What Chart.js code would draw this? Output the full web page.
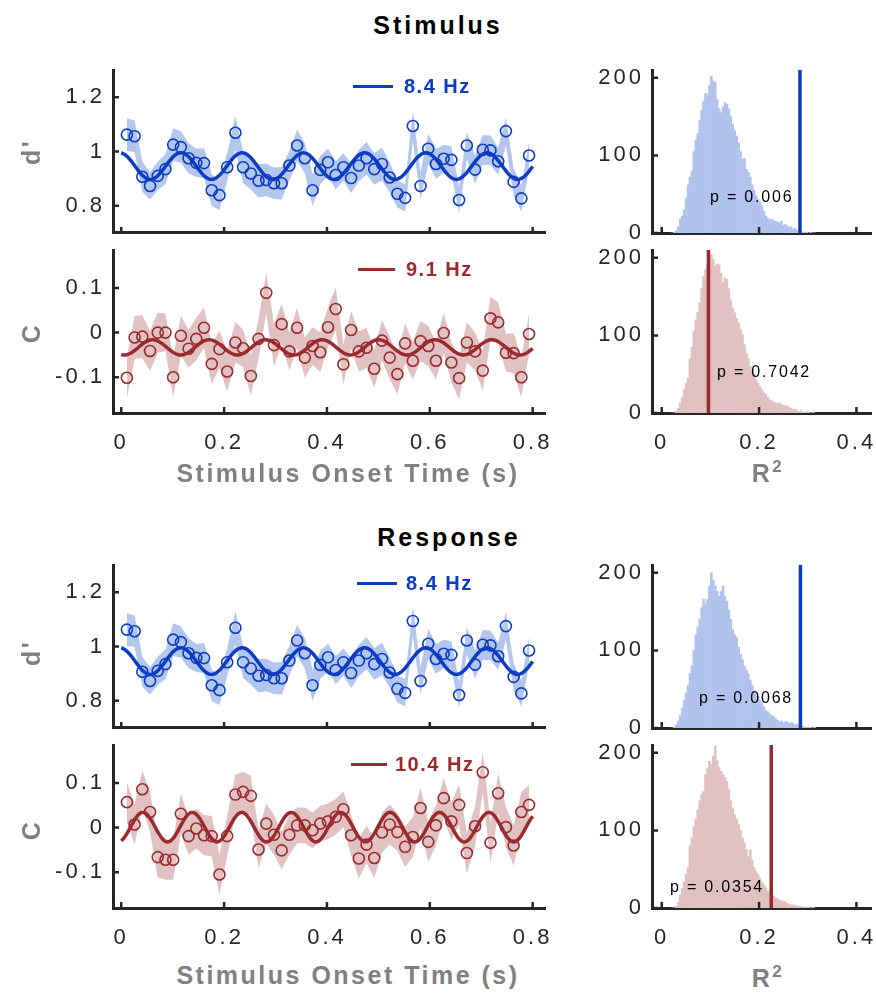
<!DOCTYPE html>
<html>
<head>
<meta charset="utf-8">
<script src="https://cdn.jsdelivr.net/npm/chart.js@4.4.1/dist/chart.umd.min.js"></script>
<style>
  body { margin: 0; background: #fff; width: 876px; height: 1001px; position: relative; overflow: hidden;
         font-family: "Liberation Sans", Arial, sans-serif; }
  canvas { position: absolute; }
  .txt { position: absolute; white-space: nowrap; transform: translate(-50%, -50%); line-height: 1; }
  .ttl { font-weight: bold; font-size: 25px; color: #000; letter-spacing: 3px; }
  .lab { font-weight: bold; font-size: 25px; color: #808080; letter-spacing: 2.5px; }
  .leg { position: absolute; white-space: nowrap; font-weight: bold; font-size: 20px; transform: translateY(-50%); line-height: 1; letter-spacing: 1.5px; }
  .legline { position: absolute; height: 3px; }
  .pv { position: absolute; white-space: nowrap; font-size: 16px; color: #000; transform: translateY(-50%); line-height: 1; letter-spacing: 1.8px; }
</style>
</head>
<body>
<canvas id="c1" width="560" height="180" style="left:0;top:60px"></canvas>
<canvas id="c2" width="560" height="225" style="left:0;top:240px"></canvas>
<canvas id="c3" width="560" height="180" style="left:0;top:555px"></canvas>
<canvas id="c4" width="560" height="225" style="left:0;top:735px"></canvas>
<canvas id="h1" width="296" height="180" style="left:580px;top:60px"></canvas>
<canvas id="h2" width="296" height="225" style="left:580px;top:240px"></canvas>
<canvas id="h3" width="296" height="180" style="left:580px;top:555px"></canvas>
<canvas id="h4" width="296" height="225" style="left:580px;top:735px"></canvas>

<div class="txt ttl" style="left:438px;top:25px">Stimulus</div>
<div class="txt ttl" style="left:449px;top:537px">Response</div>
<div class="txt lab" style="left:31px;top:152px;transform:translate(-50%,-50%) rotate(-90deg)">d'</div>
<div class="txt lab" style="left:31px;top:333px;transform:translate(-50%,-50%) rotate(-90deg)">C</div>
<div class="txt lab" style="left:31px;top:653px;transform:translate(-50%,-50%) rotate(-90deg)">d'</div>
<div class="txt lab" style="left:31px;top:830px;transform:translate(-50%,-50%) rotate(-90deg)">C</div>
<div class="txt lab" style="left:348px;top:473px">Stimulus Onset Time (s)</div>
<div class="txt lab" style="left:348px;top:975px">Stimulus Onset Time (s)</div>
<div class="txt lab" style="left:768px;top:472px">R<sup style="font-size:17px">2</sup></div>
<div class="txt lab" style="left:768px;top:977px">R<sup style="font-size:17px">2</sup></div>

<div id="legends"></div>

<script>
// stimulus onset times of the 53 samples (s)
const onsetTimes = [0.011, 0.026, 0.041, 0.056, 0.071, 0.086, 0.101, 0.116, 0.131, 0.146,
  0.161, 0.176, 0.191, 0.206, 0.222, 0.237, 0.252, 0.267, 0.282, 0.297,
  0.312, 0.327, 0.342, 0.357, 0.372, 0.387, 0.402, 0.417, 0.432, 0.447,
  0.462, 0.477, 0.492, 0.507, 0.522, 0.537, 0.552, 0.567, 0.582, 0.597,
  0.612, 0.627, 0.642, 0.657, 0.672, 0.688, 0.703, 0.718, 0.733, 0.748,
  0.763, 0.778, 0.793];

// d' (stimulus locked)
const stimDprime = [1.062, 1.056, 0.907, 0.873, 0.910, 0.935, 1.025, 1.016, 0.975, 0.958,
  0.957, 0.857, 0.839, 0.942, 1.069, 0.942, 0.919, 0.892, 0.895, 0.883,
  0.883, 0.948, 1.022, 0.975, 0.857, 0.932, 0.960, 0.913, 0.942, 0.902,
  0.948, 0.975, 0.935, 0.954, 0.904, 0.844, 0.829, 1.094, 0.873, 1.010,
  0.954, 0.973, 0.969, 0.821, 1.022, 0.933, 1.006, 1.004, 0.964, 1.075,
  0.888, 0.827, 0.985];
const stimDprimeErr = [0.060, 0.058, 0.055, 0.050, 0.052, 0.055, 0.060, 0.058, 0.055, 0.052,
  0.055, 0.058, 0.055, 0.050, 0.062, 0.058, 0.060, 0.062, 0.060, 0.058,
  0.060, 0.055, 0.058, 0.055, 0.058, 0.052, 0.050, 0.052, 0.050, 0.055,
  0.058, 0.060, 0.058, 0.060, 0.055, 0.050, 0.050, 0.055, 0.050, 0.055,
  0.055, 0.052, 0.050, 0.048, 0.050, 0.052, 0.055, 0.055, 0.050, 0.052,
  0.050, 0.048, 0.050];

// criterion C (stimulus locked)
const stimCrit = [-0.101, -0.011, -0.009, -0.041, 0.000, 0.000, -0.100, -0.007, -0.036, -0.014,
  0.011, -0.070, -0.037, -0.087, -0.022, -0.035, -0.097, -0.014, 0.089, -0.028,
  0.019, -0.042, 0.011, -0.056, -0.030, -0.044, 0.012, 0.053, -0.071, 0.006,
  -0.042, -0.034, -0.081, -0.018, -0.056, -0.093, -0.024, -0.063, -0.019, -0.030,
  -0.063, -0.001, -0.067, -0.102, -0.022, -0.042, -0.085, 0.032, 0.023, -0.045,
  -0.046, -0.100, -0.003];
const stimCritErr = [0.045, 0.048, 0.048, 0.045, 0.045, 0.042, 0.045, 0.045, 0.042, 0.048,
  0.045, 0.045, 0.042, 0.045, 0.045, 0.042, 0.045, 0.045, 0.045, 0.048,
  0.045, 0.042, 0.045, 0.045, 0.042, 0.045, 0.045, 0.048, 0.045, 0.042,
  0.045, 0.045, 0.042, 0.045, 0.048, 0.045, 0.045, 0.042, 0.045, 0.045,
  0.042, 0.045, 0.045, 0.048, 0.045, 0.042, 0.045, 0.048, 0.045, 0.042,
  0.045, 0.045, 0.045];

// d' (response locked) - same values as the stimulus-locked panel
const respDprime = stimDprime;
const respDprimeErr = stimDprimeErr;

// criterion C (response locked)
const respCrit = [0.057, 0.007, 0.086, 0.035, -0.066, -0.072, -0.072, 0.031, -0.019, -0.002,
  -0.017, -0.019, -0.105, -0.019, 0.074, 0.080, 0.071, -0.049, 0.009, -0.016,
  -0.051, -0.016, 0.005, 0.005, -0.006, 0.009, 0.014, 0.024, 0.041, -0.017,
  -0.069, -0.038, -0.068, -0.011, 0.007, -0.010, -0.043, -0.021, 0.044, -0.032,
  0.005, 0.066, 0.014, 0.051, -0.057, 0.003, 0.124, -0.034, 0.077, 0.001,
  -0.040, 0.035, 0.051];
const respCritErr = [0.045, 0.045, 0.042, 0.045, 0.045, 0.045, 0.045, 0.045, 0.042, 0.045,
  0.045, 0.045, 0.045, 0.045, 0.045, 0.045, 0.045, 0.042, 0.045, 0.045,
  0.042, 0.045, 0.040, 0.040, 0.040, 0.040, 0.040, 0.040, 0.040, 0.045,
  0.045, 0.042, 0.045, 0.045, 0.045, 0.042, 0.045, 0.045, 0.045, 0.045,
  0.045, 0.045, 0.042, 0.045, 0.045, 0.045, 0.045, 0.045, 0.045, 0.045,
  0.045, 0.045, 0.045];

// sinusoid fits (frequency, mean, amplitude, time of a peak)
const fitLabels = ['8.4 Hz', '9.1 Hz', '8.4 Hz', '10.4 Hz'];
const fitFreqs = [8.4, 9.1, 8.4, 10.4];
const fitMeans = [0.946, -0.033, 0.946, 0.001];
const fitAmps = [0.049, 0.017, 0.049, 0.033];
const fitPeaks = [-0.003, 0.061, -0.003, 0.042];

// permutation null distributions of R^2 (bin centres, counts)
const r2Bins = [0.022, 0.026, 0.030, 0.034, 0.038, 0.042, 0.046, 0.050, 0.054, 0.058,
  0.062, 0.066, 0.070, 0.074, 0.078, 0.082, 0.086, 0.090, 0.094, 0.098,
  0.102, 0.106, 0.110, 0.114, 0.118, 0.122, 0.126, 0.130, 0.134, 0.138,
  0.142, 0.146, 0.150, 0.154, 0.158, 0.162, 0.166, 0.170, 0.174, 0.178,
  0.182, 0.186, 0.190, 0.194, 0.198, 0.202, 0.206, 0.210, 0.214, 0.218,
  0.222, 0.226, 0.230, 0.234, 0.238, 0.242, 0.246, 0.250, 0.254, 0.258,
  0.262, 0.266, 0.270, 0.274, 0.278, 0.282, 0.286, 0.290, 0.294, 0.298,
  0.302, 0.306, 0.310, 0.314];
const nullStimD = [0, 1, 3, 8, 18, 22, 30, 45, 62, 72,
  80, 105, 120, 128, 145, 158, 170, 180, 178, 190,
  202, 196, 194, 172, 160, 155, 162, 168, 166, 160,
  150, 140, 132, 125, 116, 105, 95, 96, 82, 78,
  72, 62, 55, 48, 43, 40, 35, 28, 22, 19,
  17, 18, 16, 15, 14, 13, 15, 10, 11, 9,
  7, 8, 5, 6, 4, 3, 2, 1, 1, 1,
  0, 1, 0, 0];
const nullStimC = [0, 0, 2, 6, 13, 20, 30, 38, 45, 70,
  85, 105, 120, 130, 142, 160, 176, 185, 191, 196,
  204, 198, 189, 192, 191, 180, 168, 174, 172, 160,
  146, 135, 129, 122, 116, 108, 101, 88, 77, 70,
  60, 55, 50, 43, 38, 34, 30, 26, 24, 20,
  17, 16, 14, 13, 12, 13, 11, 10, 9, 9,
  7, 6, 4, 5, 3, 2, 3, 1, 1, 2,
  1, 0, 1, 0];
const nullRespD = [0, 1, 4, 9, 16, 26, 36, 45, 55, 70,
  80, 100, 120, 130, 140, 155, 166, 160, 166, 183,
  200, 190, 183, 176, 170, 176, 183, 170, 163, 152,
  140, 127, 120, 117, 104, 95, 88, 80, 75, 70,
  62, 55, 48, 44, 40, 36, 32, 27, 23, 21,
  18, 16, 15, 12, 10, 8, 9, 7, 8, 8,
  6, 7, 6, 4, 5, 3, 2, 2, 1, 1,
  1, 1, 0, 1];
const nullRespC = [0, 0, 2, 7, 17, 25, 34, 44, 52, 80,
  90, 105, 114, 126, 138, 146, 150, 172, 180, 189,
  185, 196, 209, 190, 181, 176, 172, 168, 163, 153,
  138, 128, 120, 114, 108, 100, 90, 84, 75, 66,
  75, 62, 52, 47, 43, 38, 33, 30, 26, 22,
  19, 17, 15, 13, 12, 10, 9, 9, 8, 6,
  5, 4, 4, 3, 3, 2, 2, 1, 1, 1,
  1, 0, 1, 0];
const observedR2 = [0.284, 0.096, 0.285, 0.225];
const pValues = ['p = 0.006', 'p = 0.7042', 'p = 0.0068', 'p = 0.0354'];

// tick labels
const timeTicks = [0, 0.2, 0.4, 0.6, 0.8];
const dprimeTicks = [0.8, 1, 1.2];
const critTicks = [-0.1, 0, 0.1];
const r2Ticks = [0, 0.2, 0.4];
const countTicks = [0, 100, 200];

const BLUE = '#0b3cc1', BLUE_LIGHT = '#b3c6ee', BLUE_HIST = '#b1c3ec';
const RED = '#9a2a2e', RED_LIGHT = '#e0c2c3', RED_HIST = '#dfc1c2';
const AXIS = '#262626';
const tickFont = { family: '"Liberation Sans", Arial, sans-serif', size: 22 };

// MATLAB-style ticks that point into the axes, plus the wide tick lettering
const inwardTicks = {
  id: 'inwardTicks',
  beforeUpdate(chart) { chart.ctx.letterSpacing = '3px'; },
  beforeDraw(chart) { chart.ctx.letterSpacing = '3px'; },
  afterDraw(chart) {
    const { ctx, chartArea: a, scales: { x, y } } = chart;
    ctx.save();
    ctx.strokeStyle = AXIS;
    ctx.lineWidth = 2.5;
    ctx.beginPath();
    x.ticks.forEach(t => {
      const p = x.getPixelForValue(t.value);
      ctx.moveTo(p, a.bottom); ctx.lineTo(p, a.bottom - 6);
    });
    y.ticks.forEach(t => {
      const p = y.getPixelForValue(t.value);
      ctx.moveTo(a.left, p); ctx.lineTo(a.left + 6, p);
    });
    ctx.stroke();
    ctx.restore();
  }
};

function axis(min, max, ticks, size, showLabels, isX) {
  return {
    type: 'linear', min: min, max: max, offset: false,
    afterBuildTicks: s => { s.ticks = ticks.map(v => ({ value: v })); },
    afterFit: s => {
      if (isX) { s.height = size; s.paddingLeft = 0; s.paddingRight = 0; }
      else { s.width = size; s.paddingTop = 0; s.paddingBottom = 0; }
    },
    grid: { display: false, drawTicks: false },
    border: { display: true, width: 3, color: AXIS },
    ticks: { display: showLabels, padding: isX ? 17 : 8, color: AXIS, font: tickFont,
             callback: v => String(v), maxRotation: 0, autoSkip: false }
  };
}

function timePanel(id, k, vals, errs, colour, band, yMin, yMax, yTicks, showX, xAxisH) {
  const fitGrid = [];
  for (let t = 0; t <= 0.8001; t += 0.002) fitGrid.push(t);
  const fit = fitGrid.map(t => ({ x: t, y: fitMeans[k] + fitAmps[k] * Math.cos(2 * Math.PI * fitFreqs[k] * (t - fitPeaks[k])) }));
  const pts = vals.map((v, i) => ({ x: onsetTimes[i], y: v }));
  const upper = vals.map((v, i) => ({ x: onsetTimes[i], y: v + errs[i] }));
  const lower = vals.map((v, i) => ({ x: onsetTimes[i], y: v - errs[i] }));
  return new Chart(document.getElementById(id), {
    type: 'line',
    data: {
      datasets: [
        { data: pts, showLine: false, pointRadius: 5.5, pointBorderWidth: 1.6,
          pointBorderColor: colour, pointBackgroundColor: 'rgba(0,0,0,0)' },
        { data: fit, borderColor: colour, borderWidth: 3.5, pointRadius: 0, tension: 0 },
        { data: upper, borderWidth: 0, borderColor: 'rgba(0,0,0,0)', pointRadius: 0, fill: false },
        { data: lower, borderWidth: 0, borderColor: 'rgba(0,0,0,0)', pointRadius: 0, fill: '-1', backgroundColor: band }
      ]
    },
    options: {
      animation: false, responsive: false, events: [],
      layout: { padding: { top: 10, right: 15, left: 0, bottom: 0 } },
      plugins: { legend: { display: false }, tooltip: { enabled: false } },
      scales: {
        x: axis(-0.016, 0.824, timeTicks, xAxisH, showX, true),
        y: axis(yMin, yMax, yTicks, 113, true, false)
      }
    },
    plugins: [inwardTicks]
  });
}

function histPanel(id, k, counts, colour, fillColour, showX, xAxisH) {
  return new Chart(document.getElementById(id), {
    type: 'bar',
    data: {
      datasets: [
        { type: 'line', data: [{ x: observedR2[k], y: 0 }, { x: observedR2[k], y: 210 }],
          borderColor: colour, borderWidth: 3.5, pointRadius: 0 },
        { type: 'bar', data: r2Bins.map((b, i) => ({ x: b, y: counts[i] })),
          backgroundColor: fillColour, borderWidth: 0, barPercentage: 1, categoryPercentage: 1 }
      ]
    },
    options: {
      animation: false, responsive: false, events: [],
      layout: { padding: { top: 10, right: 5, left: 0, bottom: 0 } },
      plugins: { legend: { display: false }, tooltip: { enabled: false } },
      scales: {
        x: axis(-0.02, 0.43, r2Ticks, xAxisH, showX, true),
        y: axis(0, 210, countTicks, 72, true, false)
      }
    },
    plugins: [inwardTicks]
  });
}

timePanel('c1', 0, stimDprime, stimDprimeErr, BLUE, BLUE_LIGHT, 0.7, 1.3, dprimeTicks, false, 7);
timePanel('c2', 1, stimCrit, stimCritErr, RED, RED_LIGHT, -0.18, 0.185, critTicks, true, 52);
timePanel('c3', 2, respDprime, respDprimeErr, BLUE, BLUE_LIGHT, 0.7, 1.3, dprimeTicks, false, 7);
timePanel('c4', 3, respCrit, respCritErr, RED, RED_LIGHT, -0.18, 0.185, critTicks, true, 52);

histPanel('h1', 0, nullStimD, BLUE, BLUE_HIST, false, 7);
histPanel('h2', 1, nullStimC, RED, RED_HIST, true, 52);
histPanel('h3', 2, nullRespD, BLUE, BLUE_HIST, false, 7);
histPanel('h4', 3, nullRespC, RED, RED_HIST, true, 52);

// legends of the fits and p values of the permutation tests
const legendSpots = [[353, 86, 40, 404], [358, 269, 37, 406], [357, 583, 40, 406], [351, 764, 36, 395]];
const pSpots = [[710, 197], [717, 372], [699, 698], [670, 887]];
const colours = [BLUE, RED, BLUE, RED];
const holder = document.getElementById('legends');
legendSpots.forEach((s, k) => {
  const line = document.createElement('div');
  line.className = 'legline';
  line.style.cssText = `left:${s[0]}px;top:${s[1] - 1.5}px;width:${s[2]}px;background:${colours[k]}`;
  holder.appendChild(line);
  const lab = document.createElement('div');
  lab.className = 'leg';
  lab.style.cssText = `left:${s[3]}px;top:${s[1]}px;color:${colours[k]}`;
  lab.textContent = fitLabels[k];
  holder.appendChild(lab);
  const p = document.createElement('div');
  p.className = 'pv';
  p.style.cssText = `left:${pSpots[k][0]}px;top:${pSpots[k][1]}px`;
  p.textContent = pValues[k];
  holder.appendChild(p);
});
</script>
</body>
</html>
